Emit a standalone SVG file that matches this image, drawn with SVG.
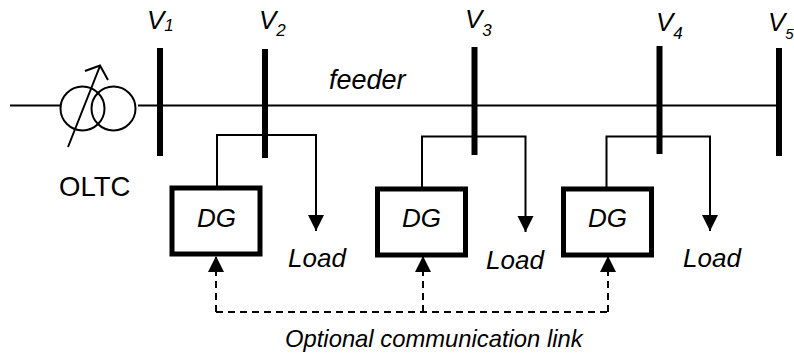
<svg xmlns="http://www.w3.org/2000/svg" width="794" height="353" viewBox="0 0 794 353">
<style>
text{font-family:"Liberation Sans",Arial,sans-serif;fill:#000;font-size:26px;font-style:italic}
.up{font-style:normal;font-size:27.500px}
.sub{font-size:17px}
.w{fill:none;stroke:#000;stroke-width:2}
.bus{stroke:#000;stroke-width:6;fill:none}
.box{fill:#fff;stroke:#000;stroke-width:5}
.dash{fill:none;stroke:#000;stroke-width:2;stroke-dasharray:7 5}
</style>
<defs>
<marker id="a" markerUnits="userSpaceOnUse" markerWidth="17" markerHeight="17" refX="16" refY="8" orient="auto"><path d="M0,0L16,8L0,16Z" fill="#000"/></marker>
</defs>
<g id="connectors">
<path class="w" d="M10,105.500H60M138,105.500H779"/>
<path class="w" d="M217,186V135H316V231" marker-end="url(#a)"/>
<path class="w" d="M422,187V136.500H525.500V232" marker-end="url(#a)"/>
<path class="w" d="M606.500,187V136.500H710V231" marker-end="url(#a)"/>
<path class="dash" d="M216,312H608"/>
<path class="dash" d="M216,312V256" marker-end="url(#a)"/>
<path class="dash" d="M423,312V256" marker-end="url(#a)"/>
<path class="dash" d="M608,312V256" marker-end="url(#a)"/>
</g>
<g id="oltc">
<circle class="w" cx="82.500" cy="108.500" r="22"/>
<circle class="w" cx="113.500" cy="108.500" r="22"/>
<path class="w" d="M68,147L100,66M85,71L100,65.500L108,80"/>
<text class="up" x="59" y="196">OLTC</text>
</g>
<g id="bus1"><path class="bus" d="M160,48V156"/><text x="147" y="29">V<tspan class="sub" dy="2">1</tspan></text></g>
<g id="bus2"><path class="bus" d="M265,49V158"/><text x="259" y="29">V<tspan class="sub" dy="7">2</tspan></text></g>
<g id="bus3"><path class="bus" d="M474.500,47V155"/><text x="465" y="28">V<tspan class="sub" dy="8">3</tspan></text></g>
<g id="bus4"><path class="bus" d="M659.500,46V154"/><text x="656" y="31">V<tspan class="sub" dy="8">4</tspan></text></g>
<g id="bus5"><path class="bus" d="M779,48V156"/><text x="768" y="31">V<tspan class="sub" dy="8" style="font-size:15px">5</tspan></text></g>
<text id="feeder" x="329" y="89" style="font-size:27px">feeder</text>
<g id="dg1"><rect class="box" x="172" y="188" width="88" height="66"/><text x="197" y="227">DG</text></g>
<g id="dg2"><rect class="box" x="377.500" y="189" width="88" height="66"/><text x="402" y="227">DG</text></g>
<g id="dg3"><rect class="box" x="563.500" y="189" width="88" height="66"/><text x="588" y="227">DG</text></g>
<text id="load1" x="288" y="267">Load</text>
<text id="load2" x="486" y="269">Load</text>
<text id="load3" x="683" y="267">Load</text>
<text id="link" x="285" y="347" style="font-size:23.800px">Optional communication link</text>
</svg>
